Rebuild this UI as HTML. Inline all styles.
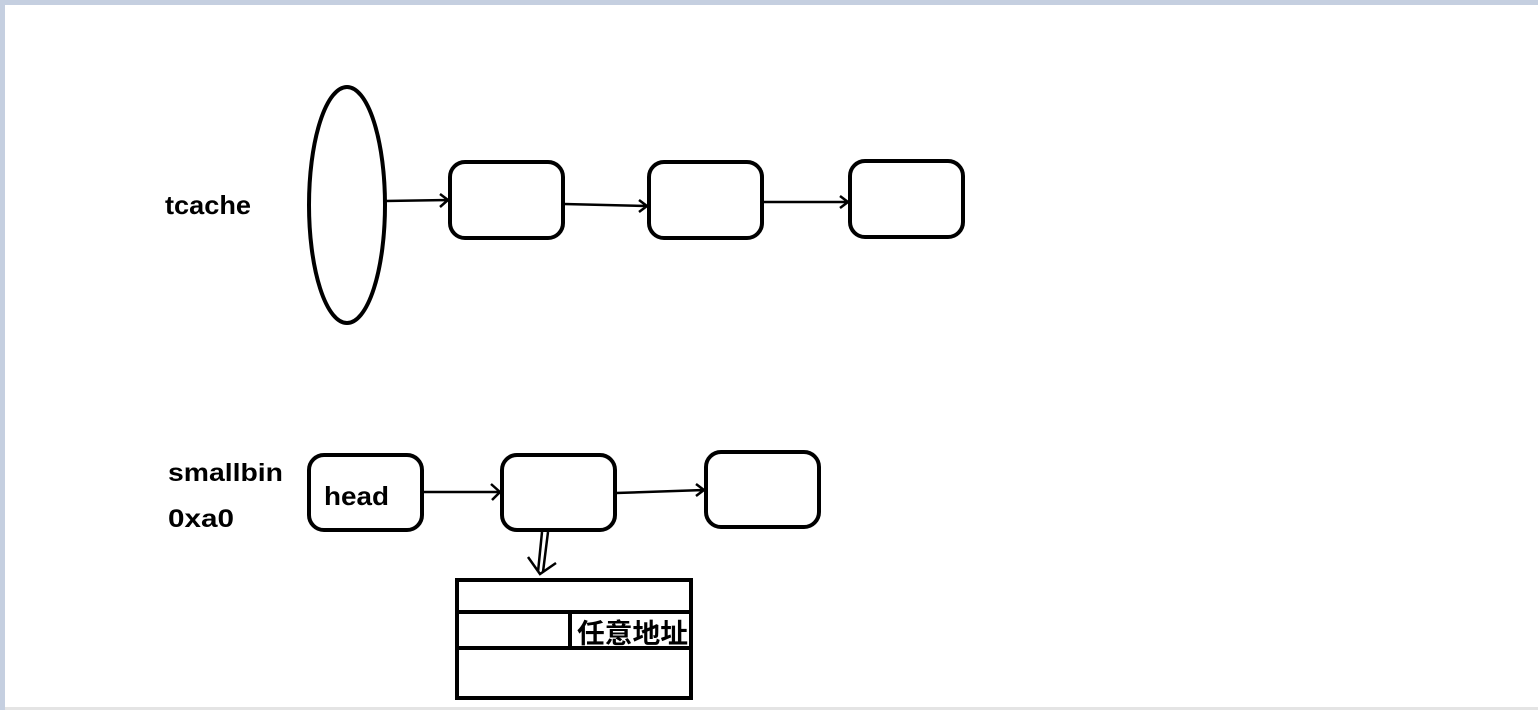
<!DOCTYPE html>
<html><head><meta charset="utf-8"><style>
html,body{margin:0;padding:0;background:#fff;}
body{width:1538px;height:710px;overflow:hidden;position:relative;}
svg{position:absolute;left:0;top:0;}
text{font-family:"Liberation Sans","Noto Sans CJK SC",sans-serif;font-weight:bold;fill:#000;}
</style></head><body>
<svg width="1538" height="710" viewBox="0 0 1538 710">
<rect x="0" y="0" width="1538" height="5" fill="#c5cfe0"/>
<rect x="0" y="0" width="5" height="710" fill="#c5cfe0"/>
<rect x="5" y="707" width="1533" height="3" fill="#e4e4e4"/>
<g fill="none" stroke="#000" stroke-width="4">
<ellipse cx="347" cy="205" rx="38" ry="118"/>
<rect x="450" y="162" width="113" height="76" rx="15"/>
<rect x="649" y="162" width="113" height="76" rx="15"/>
<rect x="850" y="161" width="113" height="76" rx="15"/>
<rect x="309" y="455" width="113" height="75" rx="15"/>
<rect x="502" y="455" width="113" height="75" rx="15"/>
<rect x="706" y="452" width="113" height="75" rx="15"/>
<rect x="457" y="580" width="234" height="118"/>
<line x1="457" y1="612" x2="691" y2="612"/>
<line x1="457" y1="648" x2="691" y2="648"/>
<line x1="570" y1="612" x2="570" y2="648"/>
</g>
<g fill="none" stroke="#000" stroke-width="2.5">
<path d="M385 201 L448 200 M440 194 L448 200 L440 207"/>
<path d="M564 204 L647 206 M639 200 L647 206 L639 212"/>
<path d="M763 202 L848 202 M840 196 L848 202 L840 208"/>
<path d="M423 492 L500 492 M491 484 L500 492 L492 500"/>
<path d="M616 493 L704 490 M696 484 L704 490 L696 496"/>
<path d="M542 532 L538 572 M548 532 L543 572 M528 557 L540 574 L556 563"/>
</g>
<text x="165" y="214" font-size="26" textLength="86" lengthAdjust="spacingAndGlyphs">tcache</text>
<text x="168" y="481" font-size="25" textLength="115" lengthAdjust="spacingAndGlyphs">smallbin</text>
<text x="168" y="527" font-size="25" textLength="66" lengthAdjust="spacingAndGlyphs">0xa0</text>
<text x="324" y="505" font-size="26" textLength="65" lengthAdjust="spacingAndGlyphs">head</text>
<text x="577" y="643" font-size="27" textLength="111" lengthAdjust="spacingAndGlyphs">任意地址</text>
</svg>
</body></html>
